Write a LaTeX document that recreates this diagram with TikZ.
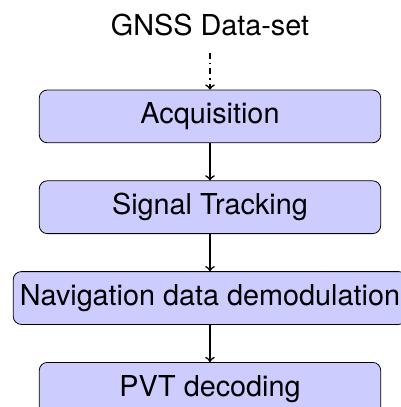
\documentclass[tikz,border=0pt]{standalone}
\usepackage{fontspec}
\setmainfont{TeX Gyre Heros}
\begin{document}
\begin{tikzpicture}[
  x=1pt, y=1pt,
  font=\Large,
  stage/.style={draw=black, fill=blue!20, rounded corners=4pt,
    minimum width=6cm, minimum height=26.4pt},
  flow/.style={->, thick},
  feed/.style={->, thick, dashdotted}
]
  \useasboundingbox (-105,0) rectangle (95.5,-203.5);

  % input data set
  \node[anchor=base] (src) at (0,-17.5) {GNSS Data-set};
  \coordinate (srcend) at (0,-26.35);

  % processing chain
  \node[stage] (acq) at (0,-58.2)  {Acquisition};
  \node[stage] (trk) at (0,-103.6) {Signal Tracking};
  \node[stage] (nav) at (0,-149.0) {Navigation data demodulation};
  \node[stage] (pvt) at (0,-194.4) {PVT decoding};

  \draw[feed] (srcend) -- (acq.north);
  \draw[flow] (acq) -- (trk);
  \draw[flow] (trk) -- (nav);
  \draw[flow] (nav) -- (pvt);
\end{tikzpicture}
\end{document}
